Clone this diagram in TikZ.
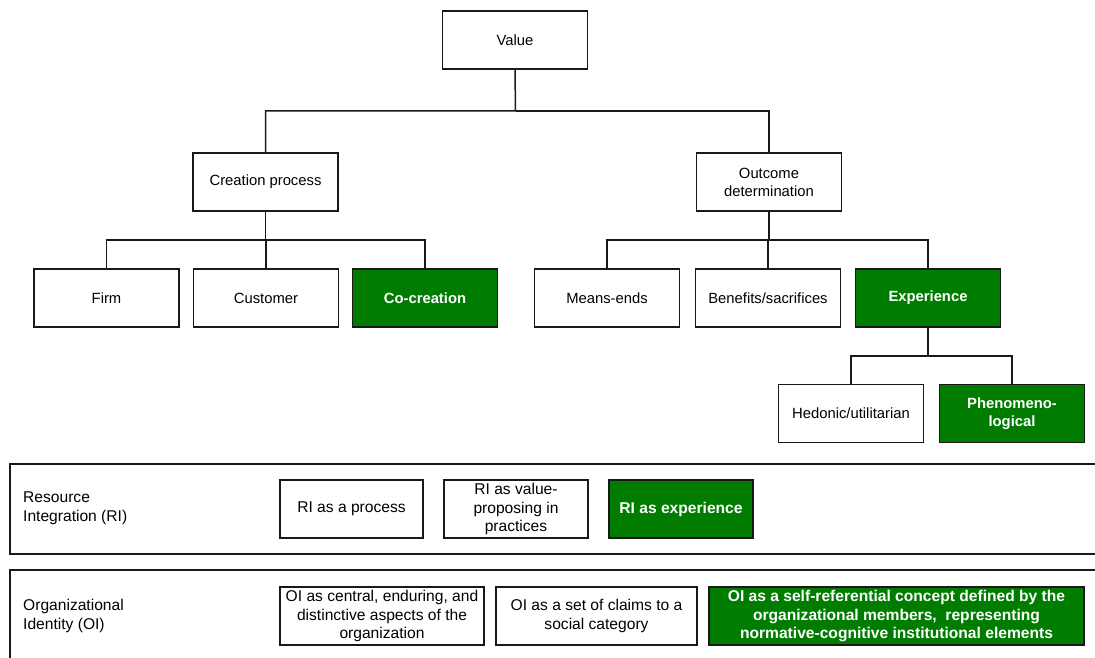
\documentclass[tikz,border=0pt]{standalone}
\usepackage{fontspec}
\setmainfont{Liberation Sans}
\begin{document}
\begin{tikzpicture}[x=1pt,y=-1pt,
  box/.style={draw=black!90, line width=1.3pt, fill=white, inner sep=1pt,
    minimum width=145pt, minimum height=58pt, align=center,
    font=\fontsize{14.8}{18}\selectfont},
  hot/.style={box, fill=vgreen, text=white, font=\fontsize{14.8}{18}\selectfont\bfseries},
  bbox/.style={box, font=\fontsize{15.6}{18.7}\selectfont},
  bhot/.style={hot, font=\fontsize{15.6}{18.7}\selectfont\bfseries},
  link/.style={line width=1.5pt, draw=black!90},
  frame/.style={line width=1.5pt, draw=black!90},
  lbl/.style={anchor=west, align=left, inner sep=0pt, font=\fontsize{15.6}{19}\selectfont}]
\definecolor{vgreen}{RGB}{0,125,0}
\clip (0,0) rectangle (1095,658);

% value hierarchy
\node[box] (value) at (515,40) {Value};
\node[box] (cp) at (265.5,182) {Creation process};
\node[box] (od) at (769,182) {Outcome\\determination};
\node[box] (firm) at (106.5,298) {Firm};
\node[box] (cust) at (266,298) {Customer};
\node[hot] (cocr) at (425,298) {Co-creation};
\node[box] (mend) at (607,298) {Means-ends};
\node[box] (bens) at (768,298) {Benefits/sacrifices};
\node[hot] (expr) at (928,298) {Experience};
\node[box] (hedo) at (851,413.5) {Hedonic/utilitarian};
\node[hot] (phen) at (1012,413.5) {Phenomeno-\\logical};

\coordinate (b1) at (515.5,111);
\coordinate (b2) at (265.5,240);
\coordinate (b3) at (769,240);
\coordinate (b4) at (928,356);

\draw[link] (value.south) -- (b1) -| (cp.north);
\draw[link] (b1) -| (od.north);
\draw[link] (cp.south) -- (b2) -| (firm.north);
\draw[link] (b2) -| (cust.north);
\draw[link] (b2) -| (cocr.north);
\draw[link] (od.south) -- (b3) -| (mend.north);
\draw[link] (b3) -| (bens.north);
\draw[link] (b3) -| (expr.north);
\draw[link] (expr.south) -- (b4) -| (hedo.north);
\draw[link] (b4) -| (phen.north);

% resource integration band
\draw[frame] (1110,464) -- (10,464) -- (10,554) -- (1110,554);
\node[lbl] (rilbl) at (23,508.5) {Resource\\Integration (RI)};
\node[bbox, minimum width=143pt] (ri1) at (351.5,509) {RI as a process};
\node[bbox, minimum width=144pt] (ri2) at (516,509) {RI as value-\\proposing in\\practices};
\node[bhot, minimum width=144pt] (ri3) at (681,509) {RI as experience};

% organizational identity band
\draw[frame] (1110,570) -- (10,570) -- (10,670);
\node[lbl] (oilbl) at (23,615.5) {Organizational\\Identity (OI)};
\node[bbox, minimum width=204pt] (oi1) at (382,616) {OI as central, enduring, and\\distinctive aspects of the\\organization};
\node[bbox, minimum width=201pt] (oi2) at (596.5,616) {OI as a set of claims to a\\social category};
\node[bhot, minimum width=375pt] (oi3) at (896.5,616) {OI as a self-referential concept defined by the\\organizational members,\ \ representing\\normative-cognitive institutional elements};
\end{tikzpicture}
\end{document}
